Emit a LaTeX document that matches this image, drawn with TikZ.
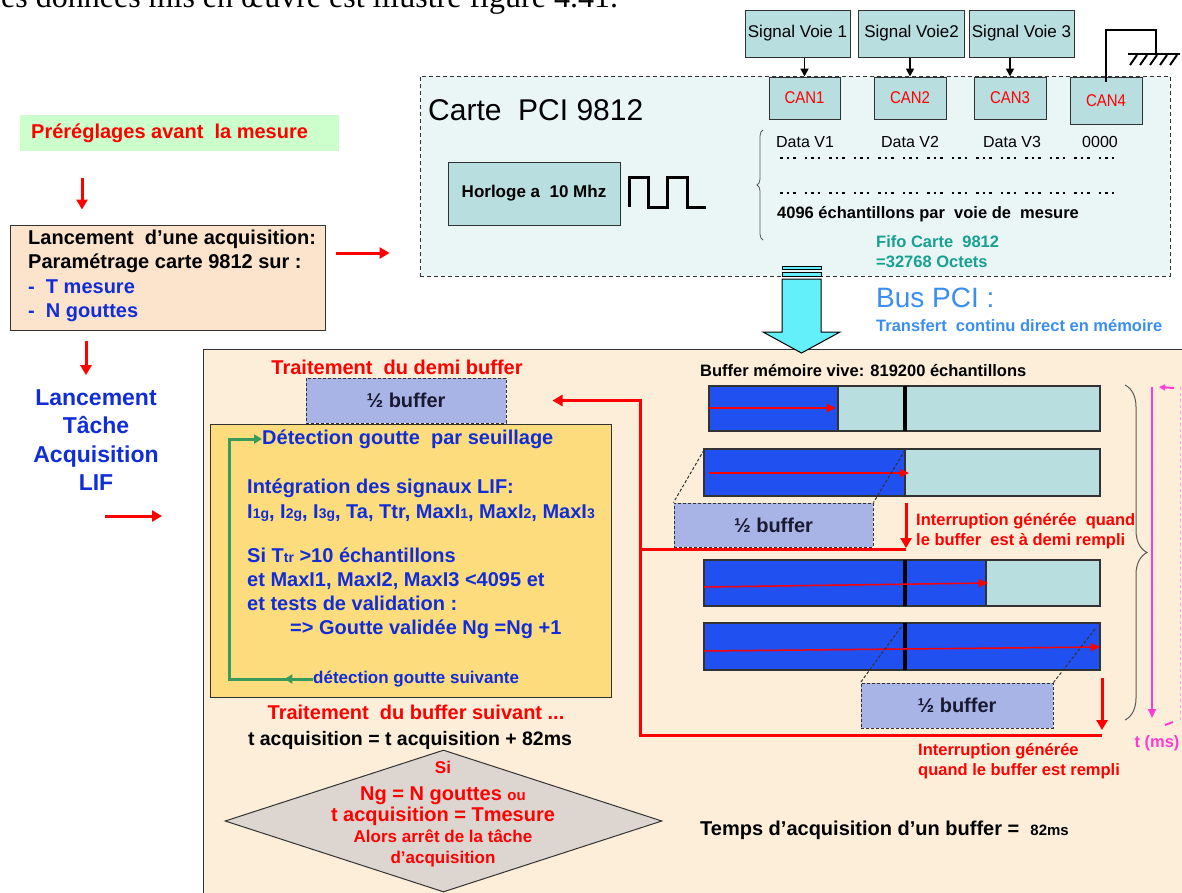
\documentclass[tikz,border=0pt]{standalone}
\usepackage{fontspec}
\setmainfont{Liberation Sans}
\newfontfamily\narrowfont[FakeStretch=0.88]{Liberation Sans}
\newfontfamily\docfont{Liberation Serif}
\usepackage{xcolor}
\usepackage{tikz}
\usetikzlibrary{arrows.meta}
\usetikzlibrary{decorations.markings}
\usetikzlibrary{decorations.pathreplacing}
\usetikzlibrary{shapes.geometric}

\definecolor{peach}{RGB}{253,238,217}
\definecolor{lancbg}{RGB}{252,228,204}
\definecolor{pregreen}{RGB}{204,255,204}
\definecolor{cartebg}{RGB}{234,246,246}
\definecolor{tealbg}{RGB}{184,222,224}
\definecolor{halfbg}{RGB}{168,180,230}
\definecolor{halftxt}{RGB}{25,25,50}
\definecolor{yellowbg}{RGB}{253,220,126}
\definecolor{diamondbg}{RGB}{221,214,208}
\definecolor{barblue}{RGB}{32,80,240}
\definecolor{txtblue}{RGB}{16,45,215}
\definecolor{busblue}{RGB}{58,142,240}
\definecolor{fifoteal}{RGB}{24,160,144}
\definecolor{loopgreen}{RGB}{58,154,90}
\definecolor{tmag}{RGB}{255,60,210}
\definecolor{pcicyan}{RGB}{100,240,250}
\definecolor{edgegray}{RGB}{50,50,50}

\newcommand{\fsz}[2]{\fontsize{#1}{#2}\selectfont}

\begin{document}
\begin{tikzpicture}[x=1pt,y=-1pt,
  box/.style={draw=edgegray, line width=1pt, inner sep=0pt},
  tealbox/.style={box, fill=tealbg},
  halfbox/.style={box, dash pattern=on 3pt off 2pt, fill=halfbg, text=halftxt, font=\bfseries\fsz{20}{20}},
  lbl/.style={inner sep=0pt, font=\bfseries\fsz{16.5}{20}},
  redarrow/.style={draw=red, line width=3pt, -{Triangle[length=10pt,width=11pt]}},
  redline/.style={draw=red, line width=3pt},
  bararrow/.style={draw=red, line width=1.5pt, -{Triangle[length=9pt,width=8pt]}},
  sigarrow/.style={draw=black, line width=1.8pt, -{Triangle[length=8pt,width=8pt]}}
  ]
  \useasboundingbox (0,0) rectangle (1182,892);
  \clip (0,0) rectangle (1182,892);

  % text of the page above the figure
  \node[anchor=base west, inner sep=0pt, font=\docfont\fsz{32}{32}] (pagetext) at (1,7) {es données mis en œuvre est illustré figure 4.41.};

  % left column
  \node[fill=pregreen, minimum width=319pt, minimum height=36pt, inner sep=0pt] (prereg) at (179.5,133) {};
  \node[anchor=west, inner sep=0pt, text=red, font=\bfseries\fsz{20}{20}] (preregtxt) at (31,133) {Préréglages avant\ \ la mesure};
  \node[box, fill=lancbg, minimum width=315pt, minimum height=105pt] (lanc) at (167.5,277.5) {};
  \node[anchor=west, inner sep=0pt, align=left, font=\bfseries\fsz{20}{24.5}] (lanctxt) at (28,276) {Lancement\ \ d’une acquisition:\\ Paramétrage carte 9812 sur :\\ \textcolor{txtblue}{-\ \ T mesure}\\ \textcolor{txtblue}{-\ \ N gouttes}};
  \node[inner sep=0pt, align=center, text=txtblue, font=\bfseries\fsz{23}{28.5}] (lif) at (96,440) {Lancement\\ Tâche\\ Acquisition\\ LIF};
  \coordinate (lifout) at (105,516);

  % carte PCI
  \node[draw=edgegray, line width=0.8pt, dash pattern=on 4pt off 3pt, fill=cartebg, minimum width=750pt, minimum height=200pt] (carte) at (795,176) {};
  \node[anchor=west, inner sep=0pt, font=\fsz{30}{30}] (cartetitle) at (428,110) {Carte\ \ PCI 9812};
  \node[tealbox, minimum width=172pt, minimum height=63pt, font=\bfseries\fsz{17}{17}] (horloge) at (534,193.5) {Horloge a\ \ 10 Mhz};
  \draw[line width=3pt] (629,207) -- (629,177) -- (648,177) -- (648,207) -- (667,207) -- (667,177) -- (687,177) -- (687,207) -- (706,207);
  \draw[gray!70!black, line width=0.8pt, decorate, decoration={brace, amplitude=6pt}] (763,240) -- (763,130);

  \node[tealbox, minimum width=105pt, minimum height=47pt, font=\fsz{17}{17}] (sv1) at (797.5,33.5) {Signal Voie 1};
  \node[tealbox, minimum width=106pt, minimum height=47pt, font=\fsz{17}{17}] (sv2) at (911.5,33.5) {Signal Voie2};
  \node[tealbox, minimum width=105pt, minimum height=47pt, font=\fsz{17}{17}] (sv3) at (1021.5,33.5) {Signal Voie 3};
  \node[tealbox, minimum width=71pt, minimum height=42pt, text=red, font=\narrowfont\fsz{17}{17}] (can1) at (804.5,98) {CAN1};
  \node[tealbox, minimum width=72pt, minimum height=42pt, text=red, font=\narrowfont\fsz{17}{17}] (can2) at (910,98) {CAN2};
  \node[tealbox, minimum width=72pt, minimum height=42pt, text=red, font=\narrowfont\fsz{17}{17}] (can3) at (1010,98) {CAN3};
  \node[tealbox, minimum width=72pt, minimum height=47pt, text=red, font=\narrowfont\fsz{17}{17}] (can4) at (1106,100.5) {CAN4};
  \draw[sigarrow] (can1.north |- sv1.south) -- (can1.north);
  \draw[sigarrow] (can2.north |- sv2.south) -- (can2.north);
  \draw[sigarrow] (can3.north |- sv3.south) -- (can3.north);
  % ground on CAN4
  \draw[line width=2.5pt] ([yshift=-5pt]can4.north) -- (can4.north |- 0,30) -- (1156,30) -- (1156,54);
  \draw[line width=2.5pt] (1128,54) -- (1180,54);
  \foreach \x in {1137,1147,1157,1167,1177}
    \draw[line width=2pt] (\x,55) -- ++(-7,10);

  \node[inner sep=0pt, font=\fsz{16}{16}] (datav1) at (805,142) {Data V1};
  \node[inner sep=0pt, font=\fsz{16}{16}] (datav2) at (910,142) {Data V2};
  \node[inner sep=0pt, font=\fsz{16}{16}] (datav3) at (1012,142) {Data V3};
  \node[inner sep=0pt, font=\fsz{16}{16}] (datav4) at (1100,142) {0000};
  \draw[line width=2.5pt, dash pattern=on 2.5pt off 4pt on 2.5pt off 4pt on 2.5pt off 9pt] (780,158) -- (1117,158);
  \draw[line width=2.5pt, dash pattern=on 2.5pt off 4pt on 2.5pt off 4pt on 2.5pt off 9pt] (780,193) -- (1117,193);
  \node[lbl, anchor=west] (echtxt) at (777,214) {4096 échantillons par\ \ voie de\ \ mesure};
  \node[lbl, anchor=west, align=left, text=fifoteal] (fifotxt) at (876,252) {Fifo Carte\ \ 9812\\ =32768 Octets};

  % bus PCI
  \draw[line width=1pt, fill=pcicyan] (782,266) rectangle (821,269);
  \draw[line width=1pt, fill=pcicyan] (782,272) rectangle (821,276);
  \node[anchor=west, inner sep=0pt, text=busblue, font=\fsz{28}{28}] (bustxt) at (876,298) {Bus PCI :};
  \node[lbl, anchor=west, text=busblue] (transtxt) at (876,326) {Transfert\ \ continu direct en mémoire};

  \draw[redarrow, shorten <=27pt, shorten >=15pt] (prereg.south -| 82,0) -- (lanc.north -| 82,0);
  \draw[redarrow, shorten <=10pt, shorten >=30pt] (lanc.east |- 0,253) -- (carte.west |- 0,253);
  \draw[redarrow, shorten <=10pt, shorten >=14pt] (lanc.south -| 86,0) -- (lif.north -| 86,0);

  % acquisition task
  \node[draw=edgegray, line width=1pt, fill=peach, minimum width=990pt, minimum height=560pt, anchor=north west] (panel) at (203,349) {};
  \draw[redarrow, shorten >=41pt] (lifout) -- (panel.west |- lifout);
  \draw[line width=1pt, fill=pcicyan] (782,279) -- (821,279) -- (821,332) -- (840,332) -- (801.5,353) -- (763,332) -- (782,332) -- cycle;

  \node[inner sep=0pt, text=red, font=\bfseries\fsz{20}{20}] (demititle) at (397,367) {Traitement\ \ du demi buffer};
  \node[box, fill=yellowbg, minimum width=401pt, minimum height=273pt, anchor=north west] (detbox) at (210,424) {};
  \node[halfbox, minimum width=200pt, minimum height=45pt] (half1) at (406,400.5) {½ buffer};
  \node[anchor=west, inner sep=0pt, text=txtblue, font=\bfseries\fsz{20}{20}] (detect) at (262,439) {Détection goutte\ \ par seuillage};
  \node[anchor=west, inner sep=0pt, align=left, text=txtblue, font=\bfseries\fsz{20}{25}] (integ) at (247,500.5) {Intégration des signaux LIF:\\ I{\fsz{14}{14}1g}, I{\fsz{14}{14}2g}, I{\fsz{14}{14}3g}, Ta, Ttr, MaxI{\fsz{14}{14}1}, MaxI{\fsz{14}{14}2}, MaxI{\fsz{14}{14}3}};
  \node[anchor=west, inner sep=0pt, align=left, text=txtblue, font=\bfseries\fsz{20}{24}] (cond) at (247,593) {Si T{\fsz{14}{14}tr} >10 échantillons\\ et MaxI1, MaxI2, MaxI3 <4095 et\\ et tests de validation :\\ \hspace*{43pt}=> Goutte validée Ng =Ng +1};
  \node[anchor=west, inner sep=0pt, text=txtblue, font=\bfseries\fsz{17}{17}] (suivante) at (313,679) {détection goutte suivante};
\begin{scope}[loopgreen, line width=3pt, decoration={
  markings,
  mark=at position 0.08 with {\arrow{Triangle[length=8pt,width=9pt]}}}
  ]
  \draw[postaction={decorate}, -{Triangle[length=8pt,width=9pt]}] (suivante.west) -| (229,439) -- (detect.west);
\end{scope}

  \node[inner sep=0pt, text=red, font=\bfseries\fsz{20}{20}] (suivtitle) at (416,712) {Traitement\ \ du buffer suivant ...};
  \node[inner sep=0pt, font=\bfseries\fsz{19.5}{19.5}] (tacq) at (410,740) {t acquisition = t acquisition + 82ms};
  \node[draw=edgegray, line width=1pt, fill=diamondbg, shape=diamond, minimum width=437pt, minimum height=142pt, inner sep=0pt] (stop) at (443.5,821) {};
  \node[inner sep=0pt, align=center, text=red, font=\bfseries\fsz{20}{21}] (stoptxt) at (443,814) {{\fsz{17}{17}Si}\\[6pt] Ng = N gouttes {\fsz{15}{15}ou}\\ t acquisition = Tmesure\\ {\fsz{17}{17}Alors arrêt de la tâche}\\ {\fsz{17}{17}d’acquisition}};
  \node[anchor=west, inner sep=0pt, font=\bfseries\fsz{20}{20}] (tempstxt) at (700,830) {Temps d’acquisition d’un buffer =\ \ {\fsz{15}{15}82ms}};

  % buffer memoire
  \node[lbl, anchor=west] (buftitle) at (700,371) {Buffer mémoire vive: 819200 échantillons};
  \draw[draw=edgegray, line width=1.2pt, fill=tealbg] (709,386) rectangle (1100,431);
  \draw[draw=edgegray, line width=1.2pt, fill=barblue] (709,386) rectangle (838,431);
  \draw[line width=4pt] (905,386) -- (905,431);
  \draw[bararrow] (709,408) -- (836,408);

  \draw[draw=edgegray, line width=1.2pt, fill=tealbg] (704,449) rectangle (1100,496);
  \draw[draw=edgegray, line width=1.2pt, fill=barblue] (704,449) rectangle (905,496);
  \draw[bararrow] (709,473) -- (909,473);

  \draw[draw=edgegray, line width=1.2pt, fill=tealbg] (704,560) rectangle (1100,606);
  \draw[draw=edgegray, line width=1.2pt, fill=barblue] (704,560) rectangle (986,606);
  \draw[line width=4pt] (905,560) -- (905,606);
  \draw[bararrow] (704,587) -- (988,583);

  \draw[draw=edgegray, line width=1.2pt, fill=barblue] (704,623) rectangle (1100,670);
  \draw[line width=4pt] (905,623) -- (905,670);
  \draw[bararrow] (704,651) -- (1100,647);

  \node[halfbox, minimum width=199pt, minimum height=44pt] (half2) at (773.5,525) {½ buffer};
  \node[halfbox, minimum width=192pt, minimum height=45pt] (half3) at (957,705.5) {½ buffer};
  \draw[edgegray, line width=1pt, dash pattern=on 3pt off 2pt] (704,450) -- (half2.north west);
  \draw[edgegray, line width=1pt, dash pattern=on 3pt off 2pt] (905,450) -- (half2.north east);
  \draw[edgegray, line width=1pt, dash pattern=on 3pt off 2pt] (901,627) -- (half3.north west);
  \draw[edgegray, line width=1pt, dash pattern=on 3pt off 2pt] (1095,629) -- (half3.north east);

  % interruptions
  \draw[redline, -{Triangle[length=10pt,width=11pt]}, shorten >=46pt] (1102,735) -- (640,735) -- (640,400.5) -- (half1.east);
  \draw[redline] (906,549) -- (640,549);
  \draw[redarrow] (906,503) -- (906,548);
  \draw[redarrow] (1102,678) -- (1102,730);
  \node[lbl, anchor=west, align=left, text=red] (int1) at (916,531) {Interruption générée\ \ quand\\ le buffer\ \ est à demi rempli};
  \node[lbl, anchor=west, align=left, text=red] (int2) at (918,761) {Interruption générée\\ quand le buffer est rempli};

  % time axis
  \draw[gray!70!black, line width=1pt, decorate, decoration={brace, amplitude=22pt}] (1125,385) -- (1125,720);
  \draw[tmag, line width=2pt, -{Triangle[length=9pt,width=8pt]}] (1152,387) -- (1152,718);
  \draw[tmag, line width=2pt, -{Triangle[length=6pt,width=6pt]}] (1174,388) -- (1159,387);
  \draw[tmag, line width=2pt] (1165,725) -- (1173,722);
  \draw[tmag!45, line width=1pt, dashed] (1180,387) -- (1180,722);
  \node[lbl, text=tmag] (tms) at (1157,743) {t (ms)};
\end{tikzpicture}
\end{document}
